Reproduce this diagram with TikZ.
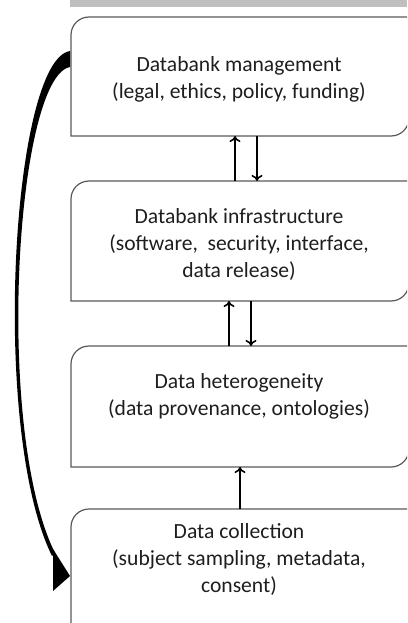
\documentclass[tikz,border=0pt]{standalone}
\usepackage{fontspec}
\setmainfont{Carlito}
\usetikzlibrary{arrows.meta}
\definecolor{boxgray}{RGB}{89,89,89}
\definecolor{bargray}{RGB}{191,191,191}
\definecolor{textgray}{RGB}{30,30,30}

\begin{document}
\begin{tikzpicture}[x=1pt,y=1pt,
    boxline/.style={draw=boxgray,line width=1.2pt},
    updown/.style={-{To[length=6pt,width=11pt]},line width=1.6pt},
    boxtext/.style={align=center,text=textgray,font=\fontsize{21.6}{27}\selectfont}]

    \useasboundingbox (0,0) rectangle (407,-623);
    \clip (0,0) rectangle (407,-623);

    % grey strip along the top
    \fill[bargray] (70,0) rectangle (407,-7);

    % The four layers: name/top/bottom
    \foreach \n/\t/\b in {1/17/136,2/181/301,3/346/467,4/509/640} {%
      \node[inner sep=0pt,outer sep=0pt,minimum width=338pt,minimum height={(\b-\t)*1pt}] (b\n) at (240,{-(\t+\b)/2}) {};
      \draw[boxline] (b\n.south west) -- ([yshift=-18pt]b\n.north west) arc[start angle=180,end angle=90,radius=18pt]
        -- (b\n.north east) -- ([yshift=18pt]b\n.south east) arc[start angle=0,end angle=-90,radius=18pt] -- cycle;
    }

    % Texts
    \node[boxtext] (t1) at (239,-79) {Databank management\\(legal, ethics, policy, funding)};
    \node[boxtext] (t2) at (239,-244) {Databank infrastructure\\(software,\ \ security, interface,\\data release)};
    \node[boxtext] (t3) at (239,-396) {Data heterogeneity\\(data provenance, ontologies)};
    \node[boxtext] (t4) at (239,-559) {Data collection\\(subject sampling, metadata,\\consent)};

    % Arrows between the layers
    \draw[updown] ([xshift=-5pt]b2.north) -- ([xshift=-5pt]b1.south);
    \draw[updown] ([xshift=17pt]b1.south) -- ([xshift=17pt]b2.north);
    \draw[updown] ([xshift=-11pt]b3.north) -- ([xshift=-11pt]b2.south);
    \draw[updown] ([xshift=11pt]b2.south) -- ([xshift=11pt]b3.north);
    \draw[updown] (b4.north) -- (b3.south);

    % Long tapered arrow from management back to collection
    \fill ([xshift=-1pt,yshift=25.5pt]b1.west) .. controls +(-58,-9) and +(-62,126) .. ([xshift=-19pt,yshift=18.5pt]b4.west)
      -- ([xshift=-16pt,yshift=21.5pt]b4.west) .. controls +(-61,123) and +(-54,-10) .. ([xshift=-1pt,yshift=9.5pt]b1.west) -- cycle;
    \fill ([xshift=-18pt,yshift=25.5pt]b4.west) -- ([xshift=-1pt,yshift=-1.5pt]b4.west) -- ([xshift=-18pt,yshift=-16.5pt]b4.west) -- cycle;

\end{tikzpicture}
\end{document}
